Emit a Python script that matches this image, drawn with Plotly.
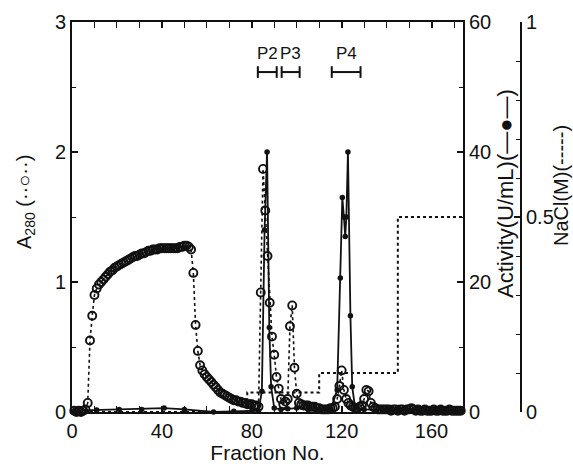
import plotly.graph_objects as go

# ---------------- data ----------------
fractions = list(range(1, 174))
a280 = [
    0.01, 0.0, 0.01, 0.0, 0.01, 0.02, 0.07, 0.55, 0.74, 0.9,
    0.95, 0.98, 1.0, 1.02, 1.04, 1.06, 1.08, 1.09, 1.11, 1.12,
    1.13, 1.14, 1.15, 1.16, 1.17, 1.18, 1.19, 1.2, 1.2, 1.21,
    1.22, 1.22, 1.23, 1.24, 1.24, 1.25, 1.25, 1.25, 1.26, 1.26,
    1.26, 1.26, 1.26, 1.26, 1.26, 1.26, 1.26, 1.27, 1.27, 1.28,
    1.28, 1.27, 1.25, 1.07, 0.67, 0.47, 0.36, 0.32, 0.29, 0.27,
    0.25, 0.23, 0.21, 0.19, 0.17, 0.15, 0.14, 0.13, 0.12, 0.11,
    0.1, 0.09, 0.09, 0.08, 0.08, 0.07, 0.07, 0.06, 0.06, 0.06,
    0.05, 0.05, 0.04, 0.92, 1.87, 1.55, 1.2, 0.84, 0.58, 0.44,
    0.27, 0.18, 0.1, 0.06, 0.08, 0.1, 0.66, 0.82, 0.34, 0.14,
    0.07, 0.06, 0.05, 0.05, 0.05, 0.04, 0.04, 0.04, 0.03, 0.03,
    0.02, 0.02, 0.02, 0.02, 0.03, 0.03, 0.04, 0.1, 0.2, 0.32,
    0.17, 0.1, 0.07, 0.05, 0.04, 0.03, 0.03, 0.04, 0.05, 0.1,
    0.17, 0.16, 0.07, 0.04, 0.03, 0.02, 0.02, 0.02, 0.02, 0.02,
    0.02, 0.01, 0.02, 0.02, 0.01, 0.02, 0.02, 0.01, 0.02, 0.02,
    0.03, 0.02, 0.01, 0.02, 0.01, 0.01, 0.02, 0.01, 0.01, 0.01,
    0.02, 0.01, 0.01, 0.02, 0.01, 0.01, 0.01, 0.02, 0.01, 0.01,
    0.01, 0.01, 0.01,
]

act_x = [1, 11, 21, 31, 41, 50, 63, 72, 80, 83, 84.5, 85.7, 86.8, 87.8, 88.6,
         90, 93, 96, 100, 105, 110, 115, 118, 119.4, 120.3, 121, 121.6, 122.1,
         122.8, 123.9, 124.7, 126, 130, 140, 150, 160, 173]
activity = [0.2, 0.3, 0.4, 0.4, 0.6, 0.4, 0.0, 0.1, 0.1, 0.2, 3.2, 28, 40, 13, 3.9,
            0.6, 0.4, 0.5, 0.6, 0.4, 0.3, 0.2, 3.4, 20.6, 33, 30, 27, 30,
            40, 14.8, 3.9, 0.6, 0.4, 0.3, 0.3, 0.2, 0.2]

nacl_x = [0, 78, 110, 145, 174]
nacl = [0, 0.05, 0.1, 0.5, 0.5]

peak_names = ["P2", "P3", "P4"]
peak_start = [82.7, 93.3, 115.6]
peak_end = [91.1, 101.3, 128.4]

x_ticks = [0, 40, 80, 120, 160]

# ---------------- layout geometry ----------------
W, H = 573, 464
ML, MR, MT, MB = 72, 40, 22, 52
PW = W - ML - MR
PH = H - MT - MB
x_dom_right = (463 - ML) / PW
y3_pos = (521 - ML) / PW

def xp(px):
    return (px - ML) / PW

def yp(py):
    return (H - MB - py) / PH

FONT = "Liberation Sans, Arial, Helvetica, sans-serif"
INK = "#111111"

fig = go.Figure()

fig.add_trace(go.Scatter(
    x=nacl_x, y=nacl, yaxis="y3", mode="lines", line_shape="hv",
    line=dict(color=INK, width=2, dash="dot"), cliponaxis=False,
    hoverinfo="skip", showlegend=False))

fig.add_trace(go.Scatter(
    x=fractions, y=a280, yaxis="y", mode="lines+markers",
    line=dict(color=INK, width=1.6, dash="dot"),
    marker=dict(symbol="circle-open", size=8, color=INK, line=dict(width=1.9)),
    cliponaxis=False, showlegend=False))

fig.add_trace(go.Scatter(
    x=act_x, y=activity, yaxis="y2", mode="lines+markers",
    line=dict(color=INK, width=1.8),
    marker=dict(symbol="circle", size=5.5, color=INK),
    cliponaxis=False, showlegend=False))

# peak range brackets
bracket_y = 2.615
for name, s, e in zip(peak_names, peak_start, peak_end):
    fig.add_shape(type="line", xref="x", yref="y", x0=s, x1=e, y0=bracket_y, y1=bracket_y,
                  line=dict(color=INK, width=2))
    for xx in (s, e):
        fig.add_shape(type="line", xref="x", yref="y", x0=xx, x1=xx,
                      y0=bracket_y - 0.045, y1=bracket_y + 0.045,
                      line=dict(color=INK, width=2))
    fig.add_annotation(x=(s + e) / 2, y=2.76, xref="x", yref="y", text=name,
                       xanchor="center", yanchor="middle",
                       showarrow=False, font=dict(size=17, color=INK, family=FONT))

axis_common = dict(showline=True, linecolor=INK, linewidth=2, ticks="inside",
                   tickcolor=INK, tickwidth=1.5, ticklen=6, showgrid=False,
                   zeroline=False, automargin=False,
                   tickfont=dict(size=20, color=INK, family=FONT))

fig.update_layout(
    width=W, height=H, margin=dict(l=ML, r=MR, t=MT, b=MB, autoexpand=False),
    paper_bgcolor="white", plot_bgcolor="white",
    font=dict(family=FONT, color=INK),
    xaxis=dict(domain=[0, x_dom_right], range=[0, 174], tickvals=x_ticks,
               mirror="allticks",
               minor=dict(dtick=10, ticks="inside", ticklen=4, tickcolor=INK, tickwidth=1.2),
               title=dict(text="Fraction No.", font=dict(size=21, color=INK, family=FONT), standoff=5),
               **axis_common),
    yaxis=dict(range=[0, 3], dtick=1, anchor="x",
               minor=dict(dtick=0.5, ticks="inside", ticklen=4, tickcolor=INK, tickwidth=1.2),
               **axis_common),
    yaxis2=dict(range=[0, 60], dtick=20, overlaying="y", side="right", anchor="x",
                minor=dict(dtick=10, ticks="inside", ticklen=4, tickcolor=INK, tickwidth=1.2),
                **axis_common),
    yaxis3=dict(range=[0, 1], dtick=0.5, overlaying="y", side="right", anchor="free",
                position=y3_pos,
                minor=dict(dtick=0.1, ticks="inside", ticklen=4, tickcolor=INK, tickwidth=1.2),
                **axis_common),
)

fig.add_annotation(xref="paper", yref="paper", x=xp(25), y=yp(202), textangle=-90,
                   xanchor="center", yanchor="middle",
                   text="A<sub>280</sub> (··○··)", showarrow=False,
                   font=dict(size=20, color=INK, family=FONT))
fig.add_annotation(xref="paper", yref="paper", x=xp(505), y=yp(194), textangle=-90,
                   xanchor="center", yanchor="middle",
                   text="Activity(U/mL)(—●—)", showarrow=False,
                   font=dict(size=22, color=INK, family=FONT))
fig.add_annotation(xref="paper", yref="paper", x=xp(561), y=yp(186), textangle=-90,
                   xanchor="center", yanchor="middle",
                   text="NaCl(M)(-----)", showarrow=False,
                   font=dict(size=20, color=INK, family=FONT))

fig.write_html("out.html")
